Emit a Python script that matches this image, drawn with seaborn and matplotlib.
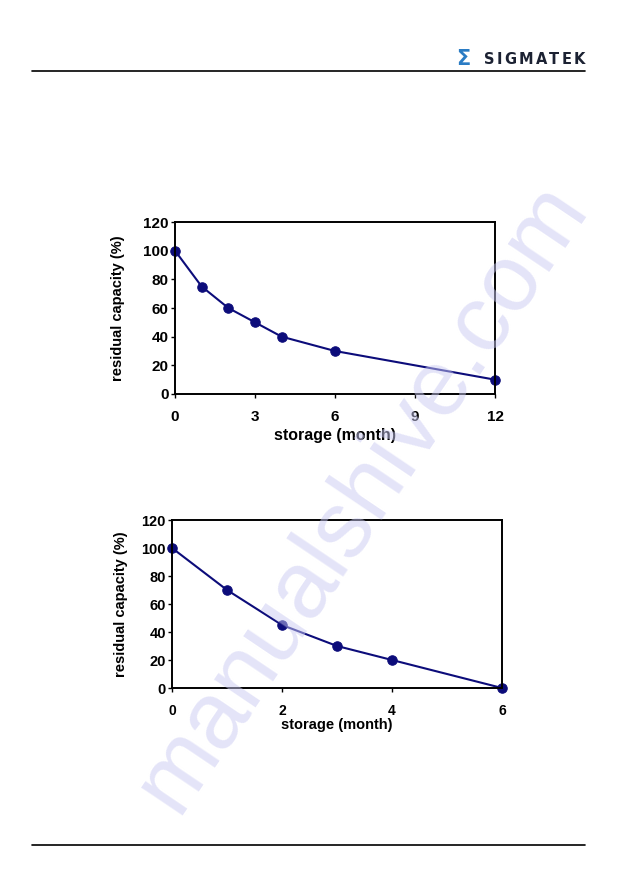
import matplotlib
matplotlib.use("Agg")
import matplotlib.pyplot as plt
import seaborn as sns
import pandas as pd
from matplotlib.lines import Line2D

# Data
months_12 = [0, 1, 2, 3, 4, 6, 12]
capacity_12 = [100, 75, 60, 50, 40, 30, 10]
months_6 = [0, 1, 2, 3, 4, 6]
capacity_6 = [100, 70, 45, 30, 20, 0]
xticks_12 = [0, 3, 6, 9, 12]
xticks_6 = [0, 2, 4, 6]
yticks = [0, 20, 40, 60, 80, 100, 120]
xlabel = "storage (month)"
ylabel = "residual capacity (%)"
brand = "SIGMATEK"

sns.set_theme(style="white")
plt.rcParams['font.family'] = ['Liberation Sans', 'DejaVu Sans']

W, H = 629, 893
fig = plt.figure(figsize=(W / 100, H / 100), dpi=100)
fig.patch.set_facecolor("white")

def px_axes(left, top, right, bottom):
    return fig.add_axes([left / W, 1 - bottom / H, (right - left) / W, (bottom - top) / H])

navy = "#0c0c7a"

# watermark
fig.text(362 / W, 1 - 497 / H, "manualshive.com", fontsize=68, color="#c9c9f2", alpha=0.5,
         rotation=56, ha="center", va="center", zorder=0)

def draw(ax, xs, ys, xmax, xticks, ytick_size, xtick_size, xlab_size, ylab_x, xlab_top):
    df = pd.DataFrame({"x": xs, "y": ys})
    sns.lineplot(data=df, x="x", y="y", ax=ax, color=navy, linewidth=1.5,
                 marker="o", markersize=6.8, markeredgecolor=navy, markerfacecolor=navy)
    ax.set_xlim(0, xmax)
    ax.set_ylim(0, 120)
    ax.set_xticks(xticks)
    ax.set_yticks(yticks)
    ax.set_facecolor("none")
    for s in ax.spines.values():
        s.set_visible(True)
        s.set_color("black")
        s.set_linewidth(1.4)
    for c in ax.get_children():
        if isinstance(c, Line2D):
            c.set_clip_on(False)
    ax.tick_params(axis="both", which="major", length=3, width=1, color="black",
                   direction="out", bottom=True, left=True, top=False, right=False,
                   labelcolor="black")
    ax.tick_params(axis="y", labelsize=ytick_size, pad=1.5)
    ax.tick_params(axis="x", labelsize=xtick_size, pad=8.5)
    for lab in ax.get_xticklabels() + ax.get_yticklabels():
        lab.set_fontweight("bold")
    ax.set_xlabel(xlabel, fontsize=xlab_size, fontweight="bold", color="black")
    ax.set_ylabel(ylabel, fontsize=10.5, fontweight="bold", color="black")
    ax.yaxis.set_label_coords(ylab_x, 0.5)
    ax.xaxis.set_label_coords(0.5, xlab_top)

# chart 1
ax1 = px_axes(175, 222, 495, 394)
draw(ax1, months_12, capacity_12, 12, xticks_12, 11, 11, 11.5,
     (125 - 175) / 320, (394 - 428) / 172)

# chart 2
ax2 = px_axes(172, 520, 502, 688)
draw(ax2, months_6, capacity_6, 6, xticks_6, 10.5, 10, 10.5,
     (128 - 172) / 330, (688 - 718) / 168)

# header / footer lines
fig.add_artist(Line2D([32 / W, 585 / W], [1 - 71 / H, 1 - 71 / H], color="black", linewidth=1.2))
fig.add_artist(Line2D([32 / W, 585 / W], [1 - 845 / H, 1 - 845 / H], color="black", linewidth=1.2))

# logo
fig.text(456 / W, 1 - 59 / H, "Σ", fontsize=15, fontweight="bold", color="#2a7cc4",
         ha="left", va="center", family=["DejaVu Sans"])
renderer = fig.canvas.get_renderer()
x0, x1 = 484.0, 585.0
widths = []
chars = []
for ch in brand:
    t = fig.text(0, 0, ch, fontsize=10.5, fontweight="bold", color="#1c2233",
                 ha="left", va="center", family=["DejaVu Sans"])
    widths.append(t.get_window_extent(renderer).width)
    chars.append(t)
gap = ((x1 - x0) - sum(widths)) / (len(brand) - 1)
xpos = x0
for t, w in zip(chars, widths):
    t.set_position((xpos / W, 1 - 59.5 / H))
    xpos += w + gap

fig.savefig("out.png", dpi=100, facecolor="white")
